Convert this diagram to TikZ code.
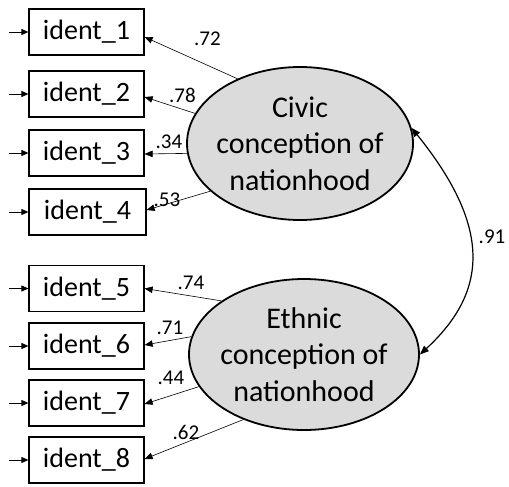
\documentclass[tikz,border=0pt]{standalone}
\usepackage{fontspec}
\setmainfont{Carlito}
\usetikzlibrary{arrows.meta,shapes.geometric}
\begin{document}
\begin{tikzpicture}[x=1pt,y=-1pt,
  indicator/.style={draw=black,line width=1.2pt,minimum width=115pt,minimum height=46pt,
    inner sep=0pt,font=\fontsize{28}{30}\selectfont},
  factor/.style={draw=black,line width=1.8pt,fill=gray!28,ellipse,inner sep=0pt},
  factortext/.style={align=center,font=\fontsize{30}{36.5}\selectfont},
  loading/.style={line width=0.6pt,-{Triangle[length=8pt,width=6.5pt]}},
  errarrow/.style={line width=0.9pt,-{Triangle[length=7pt,width=6pt]}},
  corr/.style={line width=1.2pt,{Triangle[length=9pt,width=7pt]}-{Triangle[length=9pt,width=7pt]}},
  coef/.style={font=\fontsize{21}{24}\selectfont,inner sep=0pt}]
\useasboundingbox (0,0) rectangle (509,487);

% observed indicators
\node[indicator] (i1) at (86.5,32) {ident\_1};
\node[indicator] (i2) at (86.5,94) {ident\_2};
\node[indicator] (i3) at (86.5,153) {ident\_3};
\node[indicator,minimum width=117pt] (i4) at (87.5,212) {ident\_4};
\node[indicator] (i5) at (86.5,288.5) {ident\_5};
\node[indicator] (i6) at (86.5,346) {ident\_6};
\node[indicator] (i7) at (86.5,403) {ident\_7};
\node[indicator] (i8) at (86.5,460) {ident\_8};

% latent factors
\node[factor,minimum width=226pt,minimum height=153pt,
  label={[factortext]center:Civic\\conception of\\nationhood}] (civ) at (300,143.5) {};
\node[factor,minimum width=230pt,minimum height=151pt,
  label={[factortext]center:Ethnic\\conception of\\nationhood}] (eth) at (304,354.5) {};

% error terms
\foreach \n in {1,...,8} {
  \coordinate (e\n) at ([xshift=-19pt]i\n.west);
  \draw[errarrow] (e\n) -- (i\n.west);
}

% factor loadings
\draw[loading] (civ.134) -- ([yshift=-5pt]i1.east);
\draw[loading] (civ.164) -- ([yshift=-3pt]i2.east);
\draw[loading] (civ.185) -- ([yshift=-1pt]i3.east);
\draw[loading] (civ.208) -- ([yshift=2pt]i4.east);
\draw[loading] (eth.147) -- ([yshift=0pt]i5.east);
\draw[loading] (eth.171) -- ([yshift=1pt]i6.east);
\draw[loading] (eth.197) -- ([yshift=-1pt]i7.east);
\draw[loading] (eth.227) -- ([yshift=1pt]i8.east);

\node[coef] (l1) at (207.5,39) {.72};
\node[coef] (l2) at (182.5,95) {.78};
\node[coef] (l3) at (169,142) {.34};
\node[coef] (l4) at (167,200) {.53};
\node[coef] (l5) at (191,283) {.74};
\node[coef] (l6) at (170,328) {.71};
\node[coef] (l7) at (171,378) {.44};
\node[coef] (l8) at (186,432) {.62};

% factor correlation
\draw[corr] (civ.8) .. controls (490,225) and (490,290) .. (eth.0);
\node[coef] (r) at (492,237) {.91};
\end{tikzpicture}
\end{document}
